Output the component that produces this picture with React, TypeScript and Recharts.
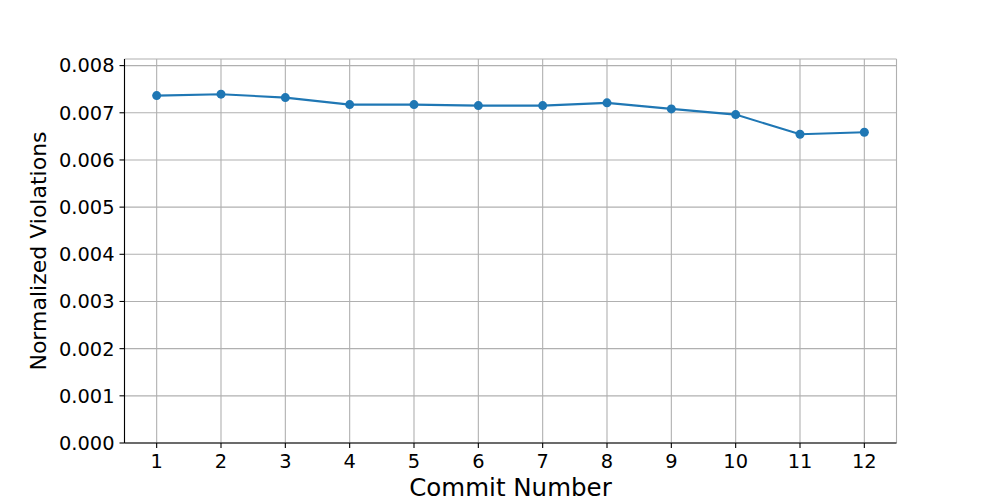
import { LineChart, Line, XAxis, YAxis, CartesianGrid, Label } from "recharts";

const commits = [1, 2, 3, 4, 5, 6, 7, 8, 9, 10, 11, 12];
const violations = [
  0.007364, 0.007394, 0.007322, 0.007173, 0.007173, 0.007152, 0.007152,
  0.00721, 0.007082, 0.006961, 0.006546, 0.006588,
];
const yTicks = [0, 0.001, 0.002, 0.003, 0.004, 0.005, 0.006, 0.007, 0.008];

const font = "'DejaVu Sans', sans-serif";

const YTitle = (props: any) => {
  const vb = props.viewBox;
  const cx = vb.x + 1.5;
  const cy = vb.y + vb.height / 2;
  return (
    <text
      x={cx}
      y={cy}
      transform={`rotate(-90, ${cx}, ${cy})`}
      textAnchor="middle"
      fontSize={22}
      fontFamily={font}
      fill="#000"
    >
      Normalized Violations
    </text>
  );
};

const XTitle = (props: any) => {
  const vb = props.viewBox;
  return (
    <text
      x={vb.x + vb.width / 2}
      y={vb.y + 52.5}
      textAnchor="middle"
      fontSize={24.5}
      fontFamily={font}
      fill="#000"
    >
      Commit Number
    </text>
  );
};

const App = () => {
  const data = commits.map((c, i) => ({ commit: c, value: violations[i] }));
  const tickStyle = { fill: "#000", fontSize: 19.4, fontFamily: font };
  return (
    <div style={{ position: "absolute", left: 0, top: 0, background: "#fff" }}>
      <LineChart
        width={996}
        height={498}
        data={data}
        margin={{ top: 59, right: 99.5, bottom: 25, left: 44.5 }}
      >
        <CartesianGrid stroke="#b0b0b0" strokeWidth={1.1} />
        <XAxis
          dataKey="commit"
          type="number"
          domain={[0.5, 12.5]}
          ticks={commits}
          height={30}
          tickSize={5}
          tickMargin={6}
          tick={tickStyle}
          axisLine={{ stroke: "#000", strokeWidth: 1.1 }}
          tickLine={{ stroke: "#000", strokeWidth: 1.1 }}
        >
          <Label content={XTitle} />
        </XAxis>
        <XAxis
          xAxisId="top"
          orientation="top"
          dataKey="commit"
          type="number"
          domain={[0.5, 12.5]}
          height={0}
          tick={false}
          tickLine={false}
          axisLine={{ stroke: "#000", strokeWidth: 1.1 }}
        />
        <YAxis
          type="number"
          domain={[0, 0.00814]}
          ticks={yTicks}
          width={80}
          tickSize={5}
          tickMargin={5}
          tick={tickStyle}
          tickFormatter={(v: number) => v.toFixed(3)}
          axisLine={{ stroke: "#000", strokeWidth: 1.1 }}
          tickLine={{ stroke: "#000", strokeWidth: 1.1 }}
          allowDataOverflow
        >
          <Label content={YTitle} />
        </YAxis>
        <YAxis
          yAxisId="right"
          orientation="right"
          type="number"
          domain={[0, 0.00814]}
          width={0}
          tick={false}
          tickLine={false}
          axisLine={{ stroke: "#000", strokeWidth: 1.1 }}
        />
        <Line
          type="linear"
          dataKey="value"
          stroke="#1f77b4"
          strokeWidth={2.1}
          dot={{ r: 4.5, fill: "#1f77b4", stroke: "none" }}
          activeDot={false}
          isAnimationActive={false}
        />
      </LineChart>
    </div>
  );
};

export default App;
